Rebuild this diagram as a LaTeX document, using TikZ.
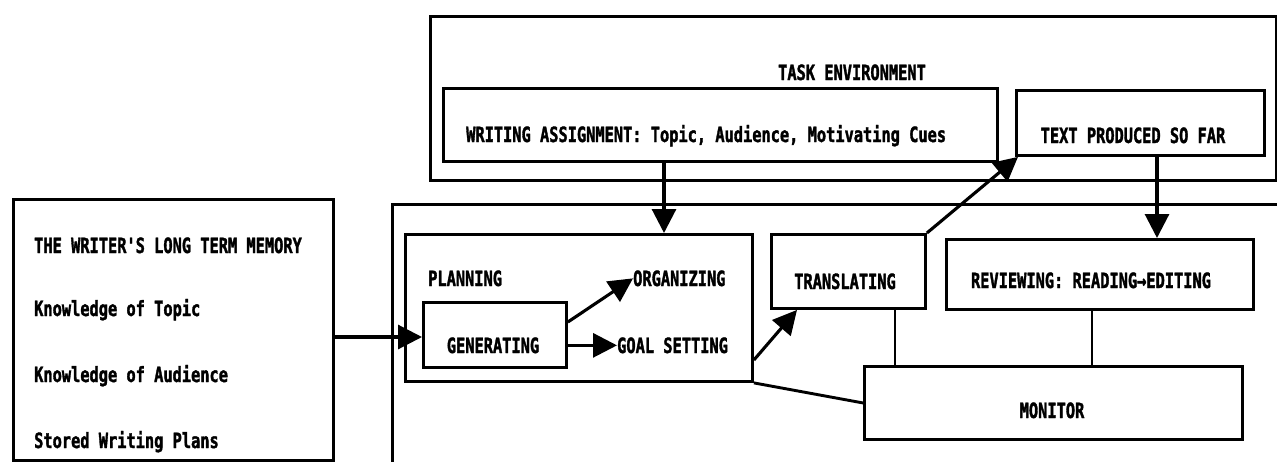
\documentclass[tikz,border=0pt]{standalone}
\usepackage{fontspec}
\newfontfamily\tyf[FakeStretch=0.73,FakeBold=1.6]{DejaVu Sans Mono}
\usetikzlibrary{arrows.meta,calc}
\tikzset{
  box/.style={draw, line width=2.9pt, inner sep=0pt, anchor=north west},
  lbl/.style={font=\tyf\bfseries\fontsize{21}{24}\selectfont, inner sep=0pt},
  arr/.style={line width=3.1pt, -{Triangle[length=24pt,width=24pt]}},
  ln/.style={line width=2.9pt},
}
\begin{document}
\begin{tikzpicture}[x=1pt,y=-1pt]
\path[use as bounding box] (0,0) rectangle (1277,461);
\clip (0,0) rectangle (1277,461);

% boxes
\node[box, minimum width=846pt, minimum height=164pt] (te) at (429,15) {};
\node[box, minimum width=554pt, minimum height=73pt] (wa) at (442,87) {};
\node[box, minimum width=248pt, minimum height=65pt] (tp) at (1015,89) {};
\node[box, minimum width=900pt, minimum height=272pt] (pb) at (391,203) {};
\node[box, minimum width=320pt, minimum height=261pt] (ltm) at (12,198) {};
\node[box, minimum width=347pt, minimum height=147pt] (plan) at (404,233) {};
\node[box, minimum width=143pt, minimum height=65pt] (gen) at (422,301) {};
\node[box, minimum width=154pt, minimum height=74pt] (tr) at (770,233) {};
\node[box, minimum width=307pt, minimum height=70pt] (rev) at (945,238) {};
\node[box, minimum width=378pt, minimum height=73pt] (mon) at (863,365) {};

% texts
\node[lbl, anchor=base] (tet) at (852,80) {TASK ENVIRONMENT};
\node[lbl, anchor=base west] (wat) at (466,142) {WRITING ASSIGNMENT: Topic, Audience, Motivating Cues};
\node[lbl, anchor=base] (tpt) at (1133,143) {TEXT PRODUCED SO FAR};
\node[lbl, anchor=base west] (ltm1) at (34,253) {THE WRITER'S LONG TERM MEMORY};
\node[lbl, anchor=base west] (ltm2) at (34,316) {Knowledge of Topic};
\node[lbl, anchor=base west] (ltm3) at (34,382) {Knowledge of Audience};
\node[lbl, anchor=base west] (ltm4) at (34,448) {Stored Writing Plans};
\node[lbl, anchor=base west] (plt) at (428,286) {PLANNING};
\node[lbl, anchor=base] (gent) at (493,353) {GENERATING};
\node[lbl, anchor=base west] (org) at (633,286) {ORGANIZING};
\node[lbl, anchor=base west] (goal) at (617,353) {GOAL SETTING};
\node[lbl, anchor=base] (trt) at (845,289) {TRANSLATING};
\node[lbl, anchor=base] (revt) at (1091,288) {REVIEWING: READING→EDITING};
\node[lbl, anchor=base] (mont) at (1052,418) {MONITOR};

% connectors
\draw[arr] (wa.south -| 664,0) -- (plan.north -| 664,0);
\draw[arr] (tp.south -| 1157,0) -- (rev.north -| 1157,0);
\draw[arr] (ltm.east |- 0,337) -- (gen.west |- 0,337);
\draw[arr] (gen.east |- 0,322) -- (org.west);
\draw[arr] (gen.east |- goal.west) -- (goal.west);
\draw[arr] (plan.east |- 0,360) -- (tr.south -| 797,0);
\draw[arr] (tr.north east) -- ([xshift=3pt]tp.south west);
\draw[ln] (tr.south -| 895,0) -- (mon.north -| 895,0);
\draw[ln] (rev.south -| 1092,0) -- (mon.north -| 1092,0);
\draw[ln] (plan.south east) -- (mon.west);
\end{tikzpicture}
\end{document}
